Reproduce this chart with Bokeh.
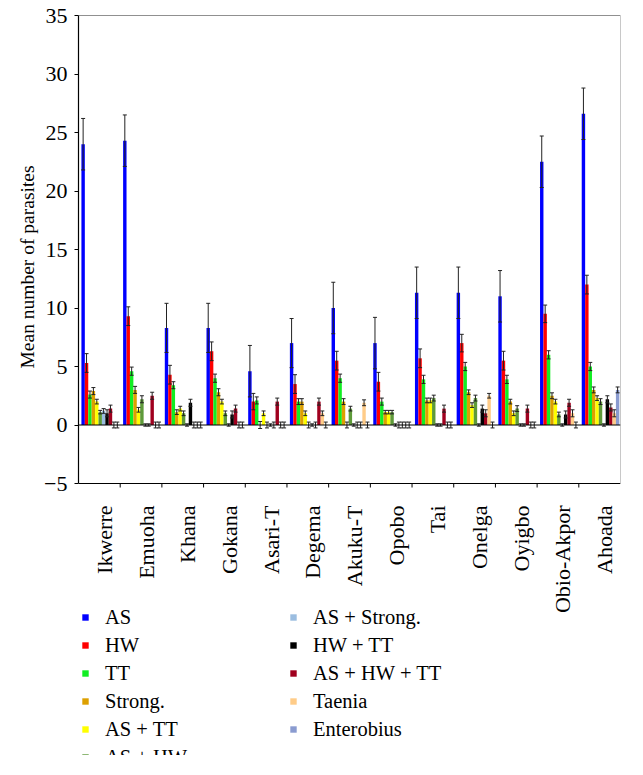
import math
from bokeh.plotting import figure
from bokeh.models import (ColumnDataSource, Range1d, FixedTicker, Span, Whisker,
                          TeeHead, Legend, LegendItem, LinearAxis, Title)
from bokeh.core.properties import value
from bokeh.embed import file_html
from bokeh.resources import INLINE

districts = ["Ikwerre", "Emuoha", "Khana", "Gokana", "Asari-T", "Degema", "Akuku-T",
             "Opobo", "Tai", "Onelga", "Oyigbo", "Obio-Akpor", "Ahoada"]
series_names = ["AS", "HW", "TT", "Strong.", "AS + TT", "AS + HW", "AS + Strong.",
                "HW + TT", "AS + HW + TT", "Taenia", "Enterobius"]
colors = ["#0000ff", "#ff0000", "#11ee22", "#dda000", "#ffff00", "#5e9a3a",
          "#9bbde0", "#000000", "#a0001e", "#ffcc88", "#8a9bd0"]

AS = [24.0, 24.3, 8.3, 8.3, 4.6, 7.0, 10.0, 7.0, 11.3, 11.3, 11.0, 22.5, 26.6]
HW = [5.3, 9.3, 4.3, 6.3, 2.0, 3.5, 5.5, 3.7, 5.7, 7.0, 5.5, 9.5, 12.0]
TT = [2.6, 4.6, 3.4, 4.0, 2.1, 2.0, 4.0, 2.0, 3.9, 5.0, 3.9, 6.0, 5.0]
STRONG = [2.9, 3.0, 1.1, 2.8, 0.0, 2.0, 2.0, 1.1, 2.1, 2.8, 2.0, 2.5, 3.0]
AS_TT = [2.0, 1.3, 1.4, 2.0, 1.0, 1.0, 0.0, 1.1, 2.1, 1.7, 1.0, 2.0, 2.3]
AS_HW = [1.1, 2.2, 1.0, 1.0, 0.0, 0.0, 1.4, 1.1, 2.3, 2.3, 1.4, 0.9, 2.0]
AS_STRONG = [1.2, 0.0, 0.0, 0.0, 0.0, 0.0, 0.0, 0.0, 0.0, 0.0, 0.0, 0.0, 0.0]
HW_TT = [1.0, 0.0, 1.9, 0.9, 0.0, 0.0, 0.0, 0.0, 0.0, 1.4, 0.0, 0.9, 2.2]
AS_HW_TT = [1.4, 2.5, 0.0, 1.4, 2.0, 2.0, 0.0, 0.0, 1.4, 1.0, 1.4, 1.9, 1.5]
TAENIA = [0.0, 0.0, 0.0, 0.0, 0.0, 1.0, 1.9, 0.0, 0.0, 2.5, 0.0, 1.0, 1.0]
ENTEROBIUS = [0.0, 0.0, 0.0, 0.0, 0.0, 0.0, 0.0, 0.0, 0.0, 0.0, 0.0, 0.0, 3.0]

ERR_AS = [2.2, 2.2, 2.1, 2.1, 2.2, 2.1, 2.2, 2.2, 2.2, 2.2, 2.2, 2.2, 2.2]
ERR_HW = [0.8, 0.8, 0.8, 0.8, 0.7, 0.8, 0.8, 0.8, 0.8, 0.75, 0.8, 0.75, 0.8]
ERR_TT = [0.3, 0.35, 0.3, 0.35, 0.3, 0.25, 0.35, 0.3, 0.35, 0.35, 0.35, 0.35, 0.35]
ERR_STRONG = [0.3, 0.3, 0.2, 0.3, 0.3, 0.25, 0.25, 0.15, 0.2, 0.2, 0.2, 0.25, 0.25]
ERR_AS_TT = [0.2, 0.2, 0.2, 0.2, 0.2, 0.2, 0.25, 0.15, 0.2, 0.2, 0.2, 0.2, 0.2]
ERR_AS_HW = [0.15, 0.3, 0.2, 0.2, 0.25, 0.25, 0.2, 0.15, 0.25, 0.25, 0.25, 0.2, 0.25]
ERR_AS_STRONG = [0.2, 0.1, 0.1, 0.1, 0.1, 0.1, 0.1, 0.1, 0.1, 0.1, 0.1, 0.1, 0.1]
ERR_HW_TT = [0.3, 0.1, 0.3, 0.3, 0.25, 0.25, 0.25, 0.25, 0.1, 0.3, 0.1, 0.3, 0.3]
ERR_AS_HW_TT = [0.3, 0.3, 0.25, 0.3, 0.3, 0.3, 0.25, 0.25, 0.3, 0.3, 0.3, 0.3, 0.3]
ERR_TAENIA = [0.25, 0.25, 0.25, 0.25, 0.25, 0.2, 0.25, 0.25, 0.25, 0.2, 0.25, 0.3, 0.3]
ERR_ENTEROBIUS = [0.25, 0.25, 0.25, 0.25, 0.25, 0.25, 0.25, 0.25, 0.25, 0.25, 0.25, 0.25, 0.25]

y_ticks = [-5, 0, 5, 10, 15, 20, 25, 30, 35]
Y_MIN, Y_MAX = -5, 35

values = [AS, HW, TT, STRONG, AS_TT, AS_HW, AS_STRONG, HW_TT, AS_HW_TT, TAENIA, ENTEROBIUS]
errors = [ERR_AS, ERR_HW, ERR_TT, ERR_STRONG, ERR_AS_TT, ERR_AS_HW, ERR_AS_STRONG,
          ERR_HW_TT, ERR_AS_HW_TT, ERR_TAENIA, ERR_ENTEROBIUS]

FONT = "Liberation Serif"
n_cat = len(districts)

# geometry: frame runs to the bottom of the canvas so the legend below the axis can be drawn
H = 755
TOP = 15
AXIS_PX = 468                     # pixels from 35 down to -5
px_per_unit = AXIS_PX / (Y_MAX - Y_MIN)
y_low = Y_MAX - (H - TOP) / px_per_unit

p = figure(width=627, height=H, output_backend="svg", toolbar_location=None,
           x_range=Range1d(0, n_cat), y_range=Range1d(y_low, Y_MAX),
           x_axis_location=None,
           min_border_left=78, min_border_right=7, min_border_top=TOP,
           min_border_bottom=0)
p.outline_line_color = None
p.grid.visible = False
p.background_fill_color = "white"
p.border_fill_color = "white"

bw = 0.082
start = 0.111
renderers = []
for i, (name, vals, errs, col) in enumerate(zip(series_names, values, errors, colors)):
    xs = [k + start + bw * i for k in range(n_cat)]
    src = ColumnDataSource(dict(x=xs, top=vals,
                                upper=[v + e for v, e in zip(vals, errs)],
                                lower=[v - e for v, e in zip(vals, errs)]))
    r = p.vbar(x="x", top="top", bottom=0, width=bw, source=src,
               fill_color=col, line_color=None)
    renderers.append(r)
    w = Whisker(base="x", upper="upper", lower="lower", source=src,
                line_color="#222222", line_width=1,
                upper_head=TeeHead(size=4, line_color="#222222", line_width=1),
                lower_head=TeeHead(size=4, line_color="#222222", line_width=1),
                level="annotation")
    p.add_layout(w)

# frame lines
p.add_layout(Span(location=0, dimension="width", line_color="black", line_width=1))
p.add_layout(Span(location=Y_MAX, dimension="width", line_color="#222222", line_width=1.2))
p.add_layout(Span(location=Y_MIN, dimension="width", line_color="black", line_width=1.2))

# hand-made category axis at y = -5
tick_src = ColumnDataSource(dict(x=list(range(1, n_cat)), y=[Y_MIN] * (n_cat - 1)))
p.ray(x="x", y="y", length=4, length_units="screen", angle=-math.pi / 2,
      line_color="black", line_width=1, source=tick_src)
lab_src = ColumnDataSource(dict(x=[k + 0.5 for k in range(n_cat)], y=[Y_MIN] * n_cat,
                                text=districts))
p.text(x="x", y="y", text="text", source=lab_src, angle=math.pi / 2,
       text_align="right", text_baseline="middle", y_offset=22, x_offset=5,
       text_font=value(FONT), text_font_size="22px", text_color="black")

ya = p.yaxis[0]
ya.bounds = (Y_MIN, Y_MAX)
ya.ticker = FixedTicker(ticks=y_ticks, minor_ticks=[])
ya.major_label_overrides = {-5: "\u22125"}
ya.major_tick_out = 4
ya.major_tick_in = 0
ya.minor_tick_line_color = None
ya.major_label_standoff = 7
ya.major_label_text_font = FONT
ya.major_label_text_font_size = "22px"
ya.major_label_text_color = "black"
ya.axis_line_color = "black"
ya.axis_line_width = 1.2

# axis title; starts ~115 px above the -5 line like the reference
p.add_layout(Title(text="Mean number of parasites", align="left", offset=387,
                   standoff=8, text_font=FONT, text_font_size="19.5px",
                   text_font_style="normal", text_color="black"), "left")

ra = LinearAxis(bounds=(Y_MIN, Y_MAX), ticker=FixedTicker(ticks=[], minor_ticks=[]),
                axis_line_color="#c8c8c8", major_tick_line_color=None,
                minor_tick_line_color=None)
p.add_layout(ra, "right")


def make_legend(idx, loc):
    items = [LegendItem(label=series_names[j], renderers=[renderers[j]]) for j in idx]
    return Legend(items=items, location=loc, orientation="vertical",
                  border_line_color=None, background_fill_alpha=0,
                  padding=0, margin=0, spacing=4, label_standoff=16,
                  glyph_width=8, glyph_height=8, label_height=24,
                  label_text_font=FONT, label_text_font_size="20.5px",
                  label_text_font_style="normal",
                  label_text_color="black")


p.add_layout(make_legend(range(0, 6), (3, -14)))
p.add_layout(make_legend(range(6, 11), (211, 14)))

open("out.html", "w").write(file_html(p, INLINE))
